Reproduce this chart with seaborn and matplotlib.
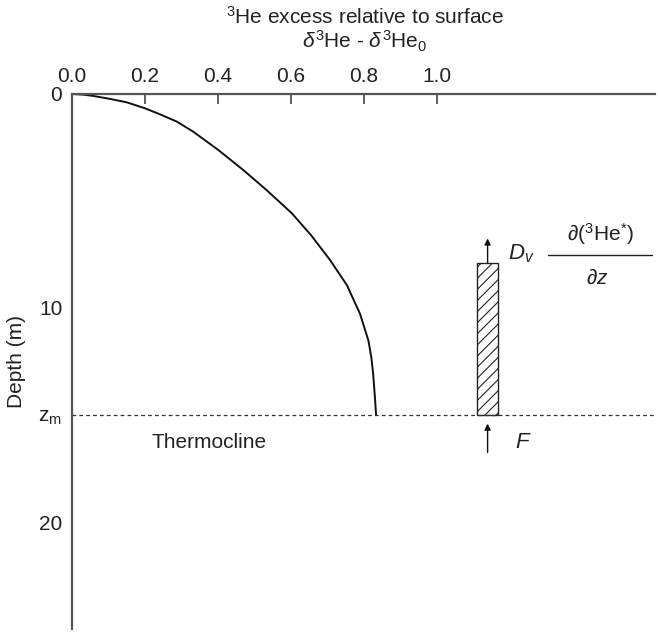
import matplotlib
matplotlib.use("Agg")
import matplotlib.pyplot as plt
import seaborn as sns
import pandas as pd

# 3He excess profile in the mixed layer (depth in m)
excess = [0.0, 0.030, 0.058, 0.104, 0.150, 0.200, 0.241, 0.287, 0.332,
          0.401, 0.469, 0.533, 0.602, 0.655, 0.707, 0.753, 0.789, 0.812,
          0.820, 0.825, 0.830, 0.833]
depth = [0.0, 0.03, 0.09, 0.23, 0.39, 0.67, 0.95, 1.29, 1.76,
         2.62, 3.55, 4.49, 5.57, 6.60, 7.76, 8.93, 10.27, 11.52,
         12.30, 13.08, 14.20, 15.0]

zm = 15.0                      # mixed-layer depth
x_ticks = [0.0, 0.2, 0.4, 0.6, 0.8, 1.0]
x_labels = ["0.0", "0.2", "0.4", "0.6", "0.8", "1.0"]
y_ticks = [0, 10, zm, 20]
y_labels = ["0", "10", r"z$_\mathrm{m}$", "20"]

# flux box
box_x = 1.1385
box_w = 0.057
box_top = 7.9

sns.set_theme(style="white")
plt.rcParams["font.family"] = ["Liberation Sans", "DejaVu Sans"]
plt.rcParams["mathtext.fontset"] = "custom"
plt.rcParams["mathtext.rm"] = "Liberation Sans"
plt.rcParams["mathtext.it"] = "Liberation Sans:italic"
plt.rcParams["mathtext.bf"] = "Liberation Sans:bold"
plt.rcParams["hatch.linewidth"] = 0.8

TXT = "#222222"
FS = 15

fig = plt.figure(figsize=(6.58, 6.32), dpi=100)
ax = fig.add_axes([0.1094, 0.0047, 0.8860, 0.8466])

df = pd.DataFrame({"excess": excess, "depth": depth})
sns.lineplot(data=df, x="excess", y="depth", sort=False, estimator=None,
             color="#111111", lw=1.4, ax=ax)

ax.axhline(zm, ls=(0, (3, 2.5)), lw=0.9, color="#333333")

ax.bar(box_x, zm - box_top, bottom=box_top, width=box_w, color="white",
       edgecolor="#222222", hatch="///", lw=1.0)

arrow = dict(arrowstyle="-|>", color="#111111", lw=1.0, mutation_scale=9,
             shrinkA=0, shrinkB=0)
ax.annotate("", xy=(box_x, 6.75), xytext=(box_x, box_top), arrowprops=arrow)
ax.annotate("", xy=(box_x, 15.4), xytext=(box_x, 16.75), arrowprops=arrow)

ax.text(1.195, 7.45, r"$D_v$", fontsize=FS + 1, color=TXT, ha="left", va="center")
ax.text(1.214, 16.3, r"$F$", fontsize=FS + 1, color=TXT, ha="left", va="center")
ax.plot([1.304, 1.589], [7.52, 7.52], color="#222222", lw=1.0)
ax.text(1.447, 6.55, r"$\partial(^3\mathrm{He}^{*})$", fontsize=FS,
        color=TXT, ha="center", va="center")
ax.text(1.44, 8.6, r"$\partial z$", fontsize=FS, color=TXT,
        ha="center", va="center")

ax.text(0.375, 16.3, "Thermocline", fontsize=FS, color=TXT,
        ha="center", va="center")

ax.set_xlim(0, 1.597)
ax.set_ylim(25.0, 0)
ax.xaxis.tick_top()
ax.set_xticks(x_ticks)
ax.set_xticklabels(x_labels)
ax.set_yticks(y_ticks)
ax.set_yticklabels(y_labels)
ax.tick_params(axis="x", direction="in", length=7.5, width=1.2,
               colors="#444444", labelcolor=TXT, labelsize=FS, pad=6)
ax.tick_params(axis="y", direction="in", length=8.5, width=1.2,
               colors="#444444", labelcolor=TXT, labelsize=FS, pad=7)
for i, t in enumerate(ax.yaxis.get_major_ticks()):
    if y_ticks[i] in (0, zm):
        t.tick1line.set_visible(False)
ax.set_xlabel("")
ax.set_ylabel("Depth (m)", fontsize=FS, color=TXT, labelpad=9)

for s in ("right", "bottom"):
    ax.spines[s].set_visible(False)
for s in ("top", "left"):
    ax.spines[s].set_color("#555555")
    ax.spines[s].set_linewidth(1.6)

fig.text(0.5547, 0.973, r"$^3$He excess relative to surface", fontsize=FS,
         color=TXT, ha="center", va="center")
fig.text(0.5547, 0.934, r"$\delta^3$He - $\delta^3$He$_0$", fontsize=FS,
         color=TXT, ha="center", va="center")

fig.savefig("out.png", dpi=100)
